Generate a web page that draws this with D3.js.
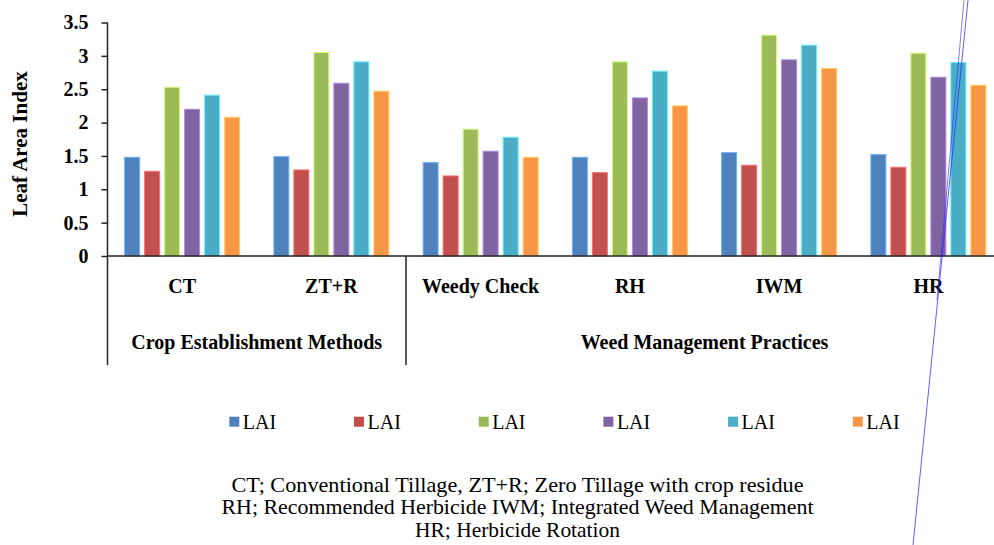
<!DOCTYPE html>
<html>
<head>
<meta charset="utf-8">
<script src="https://cdn.jsdelivr.net/npm/d3@7"></script>
<style>
  html, body { margin: 0; padding: 0; background: #fff; }
  svg { display: block; }
  text { font-family: "Liberation Serif", "Times New Roman", serif; fill: #000; }
</style>
</head>
<body>
<svg id="chart" width="994" height="545"></svg>
<script>
// ---- data ----
const categories = ["CT", "ZT+R", "Weedy Check", "RH", "IWM", "HR"];
const groups = [
  { name: "Crop Establishment Methods", from: 0, to: 2 },
  { name: "Weed Management Practices", from: 2, to: 6 }
];
const seriesNames = ["LAI 1", "LAI 2", "LAI 3", "LAI 4", "LAI 5", "LAI 6"];
const legendLabels = ["LAI", "LAI", "LAI", "LAI", "LAI", "LAI"];
const seriesColors = ["#4F81BD", "#C0504D", "#9BBB59", "#8064A2", "#4BACC6", "#F79646"];
// one array per series, one value per category
const s1 = [1.48, 1.49, 1.40, 1.48, 1.55, 1.52];
const s2 = [1.27, 1.29, 1.20, 1.25, 1.36, 1.33];
const s3 = [2.53, 3.05, 1.90, 2.91, 3.31, 3.04];
const s4 = [2.20, 2.59, 1.57, 2.37, 2.94, 2.68];
const s5 = [2.41, 2.91, 1.78, 2.77, 3.16, 2.90];
const s6 = [2.08, 2.47, 1.48, 2.25, 2.81, 2.56];
const seriesValues = [s1, s2, s3, s4, s5, s6];
const yTickValues = [0, 0.5, 1, 1.5, 2, 2.5, 3, 3.5];
const yTickLabels = ["0", "0.5", "1", "1.5", "2", "2.5", "3", "3.5"];
const yTitle = "Leaf Area Index";
const footnotes = [
  "CT; Conventional Tillage, ZT+R; Zero Tillage with crop residue",
  "RH; Recommended Herbicide IWM; Integrated Weed Management",
  "HR; Herbicide Rotation"
];

// ---- layout ----
const svg = d3.select("#chart");
const plotLeft = 107.5, bandW = 149.25;
const plotRight = plotLeft + bandW * categories.length;
const yTop = 22.5, yBottom = 256;

const x0 = d3.scaleBand().domain(categories).range([plotLeft, plotRight]).padding(0);
const x1 = d3.scaleBand().domain(seriesNames).range([0, x0.bandwidth()])
  .paddingInner(0.25).paddingOuter(0.856);
const y = d3.scaleLinear().domain([0, 3.5]).range([yBottom, yTop]);

// bars
const rows = categories.map((c, i) => ({
  cat: c,
  vals: seriesNames.map((s, j) => ({ s, j, v: seriesValues[j][i] }))
}));
const g = svg.append("g");
g.selectAll("g.cat").data(rows).join("g")
  .attr("transform", d => `translate(${x0(d.cat)},0)`)
  .selectAll("rect").data(d => d.vals).join("rect")
  .attr("x", d => x1(d.s))
  .attr("width", x1.bandwidth())
  .attr("y", d => y(d.v))
  .attr("height", d => y(0) - y(d.v))
  .attr("fill", d => seriesColors[d.j])
  .attr("stroke", d => d3.color(seriesColors[d.j]).brighter(0.9))
  .attr("stroke-width", 1);

// y axis
const yAxis = d3.axisLeft(y).tickValues(yTickValues)
  .tickFormat((d, i) => yTickLabels[i]).tickSize(6).tickPadding(13);
const ya = svg.append("g").attr("transform", `translate(${plotLeft},0)`).call(yAxis);
ya.select(".domain").remove();
ya.selectAll(".tick line").attr("stroke", "#222").attr("stroke-width", 1.5);
ya.selectAll(".tick text")
  .style("font-family", '"Liberation Serif", "Times New Roman", serif')
  .style("font-size", "20px").style("font-weight", "bold").attr("fill", "#000");

// axis lines
svg.append("line").attr("x1", plotLeft).attr("x2", plotLeft)
  .attr("y1", yTop).attr("y2", 365).attr("stroke", "#222").attr("stroke-width", 1.5);
svg.append("line").attr("x1", plotLeft).attr("x2", plotRight)
  .attr("y1", y(0)).attr("y2", y(0)).attr("stroke", "#222").attr("stroke-width", 1.5);
// group dividers
groups.slice(1).forEach(gr => {
  const xx = x0(categories[gr.from]);
  svg.append("line").attr("x1", xx).attr("x2", xx)
    .attr("y1", y(0)).attr("y2", 365).attr("stroke", "#222").attr("stroke-width", 1.5);
});

// category labels
svg.selectAll("text.cat").data(categories).join("text")
  .attr("class", "cat")
  .attr("x", d => x0(d) + x0.bandwidth() / 2)
  .attr("y", 293)
  .attr("text-anchor", "middle")
  .style("font-size", "20px").style("font-weight", "bold")
  .text(d => d);

// group labels
svg.selectAll("text.grp").data(groups).join("text")
  .attr("class", "grp")
  .attr("x", d => (x0(categories[d.from]) + (d.to < categories.length ? x0(categories[d.to]) : plotRight)) / 2)
  .attr("y", 349)
  .attr("text-anchor", "middle")
  .style("font-size", "20px").style("font-weight", "bold")
  .text(d => d.name);

// y title
svg.append("text")
  .attr("transform", `translate(26.5,${(68 + 220) / 2}) rotate(-90)`)
  .attr("text-anchor", "middle")
  .style("font-size", "21px").style("font-weight", "bold")
  .text(yTitle);

// legend
const leg = svg.selectAll("g.leg").data(seriesNames).join("g")
  .attr("class", "leg")
  .attr("transform", (d, i) => `translate(${229.3 + i * 124.7},416.7)`);
leg.append("rect").attr("width", 10).attr("height", 10)
  .attr("fill", (d, i) => seriesColors[i]);
leg.append("text").attr("x", 13.5).attr("y", 12.5)
  .style("font-size", "20px")
  .text((d, i) => legendLabels[i]);

// footnotes
const fnWidths = [572, 592, 205];
svg.selectAll("text.fn").data(footnotes).join("text")
  .attr("class", "fn")
  .attr("x", 517.5)
  .attr("y", (d, i) => 491.5 + i * 22.5)
  .attr("text-anchor", "middle")
  .attr("textLength", (d, i) => fnWidths[i])
  .attr("lengthAdjust", "spacingAndGlyphs")
  .style("font-size", "21px")
  .text(d => d);

// stray blue annotation strokes present in the reference image
svg.append("line").attr("x1", 968).attr("y1", 0).attr("x2", 913).attr("y2", 545)
  .attr("stroke", "#2a2aff").attr("stroke-opacity", 0.75).attr("stroke-width", 1);
svg.append("line").attr("x1", 964).attr("y1", 0).attr("x2", 937).attr("y2", 300)
  .attr("stroke", "#2a2aff").attr("stroke-opacity", 0.6).attr("stroke-width", 1);
</script>
</body>
</html>
